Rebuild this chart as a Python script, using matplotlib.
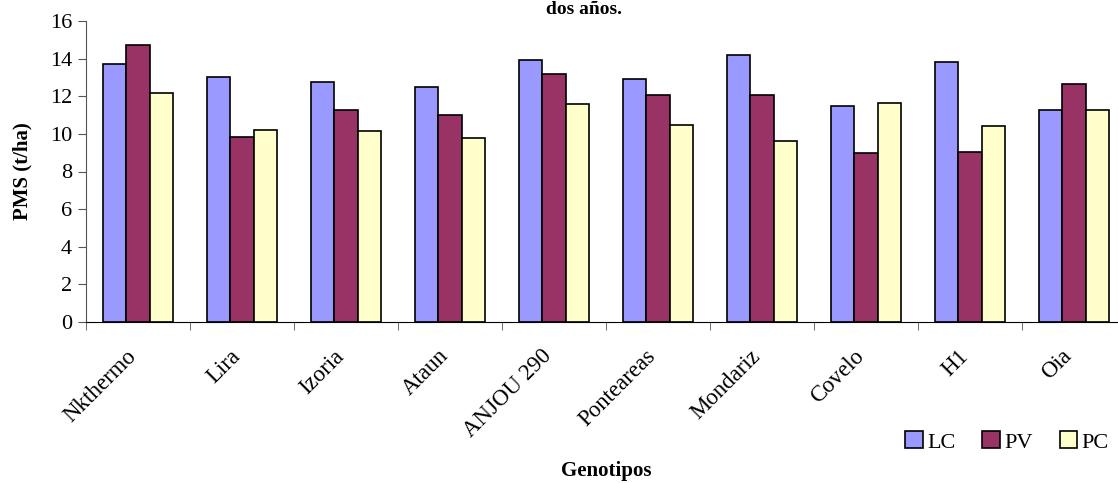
import numpy as np
import matplotlib.pyplot as plt
from matplotlib.transforms import ScaledTranslation

plt.rcParams['font.family'] = ['Liberation Serif', 'DejaVu Serif']

genotipos = ['Nkthermo', 'Lira', 'Izoria', 'Ataun', 'ANJOU 290', 'Ponteareas',
             'Mondariz', 'Covelo', 'H1', 'Oia']
lc = [13.70, 13.01, 12.74, 12.48, 13.93, 12.94, 14.18, 11.47, 13.81, 11.27]
pv = [14.71, 9.83, 11.29, 10.99, 13.17, 12.07, 12.09, 8.98, 9.04, 12.65]
pc = [12.19, 10.21, 10.17, 9.78, 11.57, 10.46, 9.60, 11.66, 10.40, 11.27]
series = [('LC', lc, '#9999FF'), ('PV', pv, '#993366'), ('PC', pc, '#FFFFCC')]

fig = plt.figure(figsize=(11.18, 4.83), dpi=100)
ax = fig.add_axes([86/1118, 1 - 322/483, 1040/1118, 301/483])

x = np.arange(len(genotipos))
w = 0.222
for i, (name, vals, col) in enumerate(series):
    ax.bar(x + (i - 1) * w, vals, w, color=col, edgecolor='black',
           linewidth=1.2, label=name)

ax.set_xlim(-0.5, len(genotipos) - 0.5)
ax.set_ylim(0, 16)
ax.set_yticks(range(0, 17, 2))
ax.tick_params(axis='y', labelsize=16, length=6, direction='out',
               color='#555555', pad=4)
ax.set_xticks(x)
ax.set_xticklabels(genotipos, rotation=45, ha='right', rotation_mode='anchor',
                   fontsize=16.5)
ax.tick_params(axis='x', length=0, pad=17)
# nudge labels a bit left, like the original
shift = ScaledTranslation(-9/72, 0, fig.dpi_scale_trans)
for lab in ax.get_xticklabels():
    lab.set_transform(lab.get_transform() + shift)
ax.set_xticks(np.arange(-0.5, len(genotipos)), minor=True)
ax.tick_params(axis='x', which='minor', length=6, color='#555555')
for s in ['top', 'right']:
    ax.spines[s].set_visible(False)
ax.spines['left'].set_color('#555555')
ax.spines['bottom'].set_color('black')

fig.text(22/1118, 1 - 171/483, 'PMS (t/ha)', rotation=90, ha='center',
         va='center', fontsize=15, fontweight='bold')
fig.text(606/1118, 1 - 471/483, 'Genotipos', ha='center', va='center',
         fontsize=15, fontweight='bold')
fig.text(584/1118, 1 - 1/483, 'dos años.', ha='center', va='top',
         fontsize=14, fontweight='bold')

ax.legend(loc='center', bbox_to_anchor=(1007/1118, 1 - 442/483),
          bbox_transform=fig.transFigure, ncol=3, frameon=False, fontsize=16,
          handlelength=0.8, handleheight=0.8, handletextpad=0.2, columnspacing=1.2)

fig.savefig('out.png', dpi=100)
